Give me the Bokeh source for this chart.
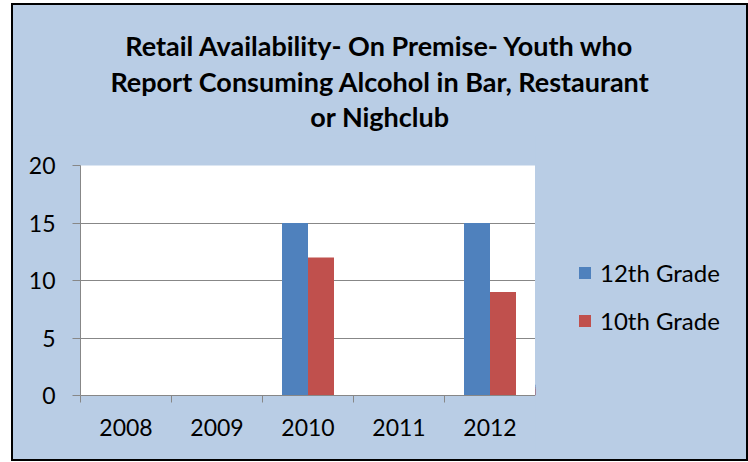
from bokeh.plotting import figure
from bokeh.layouts import column, row
from bokeh.models import (Range1d, LinearAxis, FixedTicker, CustomJSTickFormatter,
                          Legend, LegendItem, Label, ColumnDataSource)
from bokeh.embed import file_html
from bokeh.resources import INLINE

years = ["2008", "2009", "2010", "2011", "2012"]
grade12 = [0, 0, 15, 0, 15]
grade10 = [0, 0, 12, 0, 9]
series_names = ["12th Grade", "10th Grade"]
colors = ["#4F81BD", "#C0504D"]
y_ticks = [0, 5, 10, 15, 20]
title_lines = ["Retail Availability- On Premise- Youth who",
               "Report Consuming Alcohol in Bar, Restaurant",
               "or Nighclub"]

FONT = "Lato"
BG = "#B9CDE5"
GRID = "#878787"
W = 733
TH = 130
PW = 522
PH = 324


def blank(width, height, x0=0):
    f = figure(width=width, height=height, x_range=Range1d(x0, x0 + width),
               y_range=Range1d(0, height),
               output_backend="svg", toolbar_location=None,
               x_axis_location=None, y_axis_location=None, min_border=0)
    f.background_fill_color = BG
    f.border_fill_color = BG
    f.outline_line_color = None
    f.xgrid.visible = False
    f.ygrid.visible = False
    return f


# ---------- title panel ----------
tf = blank(W, TH)
for txt, ty in zip(title_lines, [90, 54, 19]):
    tf.add_layout(Label(x=366.5, y=ty, text=txt,
                        text_align="center", text_baseline="middle",
                        text_font=FONT, text_font_style="bold",
                        text_font_size="27px", text_color="black"))

# ---------- chart ----------
n = len(years)
bw = 0.2857
centers = [i + 0.5 for i in range(n)]
src = ColumnDataSource(dict(year=years,
                            x12=[c - bw / 2 for c in centers],
                            x10=[c + bw / 2 for c in centers],
                            g12=grade12, g10=grade10))

p = figure(x_range=Range1d(0, n), y_range=Range1d(0, 20), width=PW, height=PH,
           output_backend="svg", toolbar_location=None,
           x_axis_location=None, y_axis_location="left",
           min_border_left=67, min_border_right=0, min_border_top=30, min_border_bottom=64)
p.background_fill_color = "white"
p.border_fill_color = BG
p.outline_line_color = None

p.vbar(x="x12", top="g12", width=bw, source=src, fill_color=colors[0], line_color=None)
p.vbar(x="x10", top="g10", width=bw, source=src, fill_color=colors[1], line_color=None)

p.xgrid.visible = False
p.ygrid.ticker = FixedTicker(ticks=y_ticks)
p.ygrid.grid_line_color = GRID
p.ygrid.grid_line_width = 1

ya = p.yaxis[0]
ya.ticker = FixedTicker(ticks=y_ticks)
ya.axis_line_color = GRID
ya.major_tick_line_color = GRID
ya.major_tick_out = 8
ya.major_tick_in = 0
ya.minor_tick_line_color = None
ya.major_label_standoff = 17
ya.major_label_text_font = FONT
ya.major_label_text_font_size = "23px"
ya.major_label_text_color = "black"

# ticks between categories
xt = LinearAxis(ticker=FixedTicker(ticks=list(range(n + 1))))
xt.axis_line_color = GRID
xt.major_tick_line_color = GRID
xt.major_tick_out = 7
xt.major_tick_in = 0
xt.minor_tick_line_color = None
xt.major_label_text_color = None
xt.major_label_standoff = 0
p.add_layout(xt, "below")

# category labels
xc = LinearAxis(ticker=FixedTicker(ticks=centers),
                formatter=CustomJSTickFormatter(args=dict(years=years),
                                                code="return years[Math.floor(tick)];"))
xc.axis_line_color = None
xc.major_tick_line_color = None
xc.minor_tick_line_color = None
xc.major_label_standoff = 10
xc.major_label_text_font = FONT
xc.major_label_text_font_size = "23px"
xc.major_label_text_color = "black"
p.add_layout(xc, "below")

# ---------- legend panel (series renderers kept out of its view) ----------
lf = blank(W - PW, PH, x0=n + 1)
k12 = lf.vbar(x="x12", top="g12", width=bw, source=src, fill_color=colors[0], line_color=None)
k10 = lf.vbar(x="x10", top="g10", width=bw, source=src, fill_color=colors[1], line_color=None)
legend = Legend(items=[LegendItem(label=series_names[0], renderers=[k12]),
                       LegendItem(label=series_names[1], renderers=[k10])],
                location=(42, 60))
legend.background_fill_alpha = 0
legend.border_line_color = None
legend.glyph_width = 15
legend.glyph_height = 15
legend.label_standoff = 8
legend.label_text_font = FONT
legend.label_text_font_size = "24px"
legend.label_text_color = "black"
legend.label_height = 26
legend.spacing = 19
legend.padding = 0
legend.margin = 0
lf.add_layout(legend, "center")

layout = column(tf, row(p, lf, spacing=0), spacing=0)
layout.styles = {"border": "2px solid black", "margin-left": "11px", "margin-top": "3px",
                 "background-color": BG}

open("out.html", "w").write(file_html(layout, INLINE))
